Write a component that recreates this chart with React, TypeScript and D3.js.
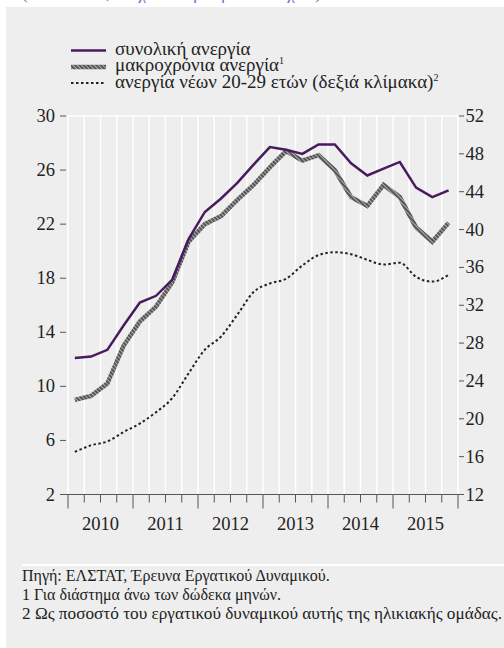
import React from "react";
import * as d3 from "d3";

const years = ["2010", "2011", "2012", "2013", "2014", "2015"];
const leftTicks = [2, 6, 10, 14, 18, 22, 26, 30];
const rightTicks = [12, 16, 20, 24, 28, 32, 36, 40, 44, 48, 52];

const totalUnemp = [12.1, 12.2, 12.7, 14.5, 16.2, 16.7, 17.9, 20.9, 22.9, 23.9, 25.05, 26.4,
  27.7, 27.5, 27.2, 27.9, 27.9, 26.5, 25.6, 26.1, 26.6, 24.7, 24.0, 24.5];
const longTerm = [9.0, 9.3, 10.2, 13.0, 14.8, 15.9, 17.7, 20.7, 22.0, 22.6, 23.8, 24.9,
  26.2, 27.4, 26.7, 27.1, 26.0, 24.0, 23.35, 24.9, 24.0, 21.75, 20.7, 22.1];
const youth = [16.5, 17.2, 17.6, 18.6, 19.5, 20.7, 22.2, 24.8, 27.3, 28.7, 31.0, 33.4,
  34.3, 34.8, 36.2, 37.3, 37.6, 37.4, 36.8, 36.3, 36.5, 35.0, 34.5, 35.2];

const legendItems = ["συνολική ανεργία", "μακροχρόνια ανεργία", "ανεργία νέων 20-29 ετών (δεξιά κλίμακα)"];
const legendSup = ["", "1", "2"];
const notes = [
  "Πηγή: ΕΛΣΤΑΤ, Έρευνα Εργατικού Δυναμικού.",
  "1 Για διάστημα άνω των δώδεκα μηνών.",
  "2 Ως ποσοστό του εργατικού δυναμικού αυτής της ηλικιακής ομάδας.",
];

const ts = { fontFamily: '"Liberation Serif", monospace' };

export default function App() {
  const left = 68, right = 458, top = 116, bottom = 494.5;
  const x = d3.scaleLinear().domain([0, 24]).range([left, right]);
  const yL = d3.scaleLinear().domain([2, 30]).range([bottom, top]);
  const yR = d3.scaleLinear().domain([12, 52]).range([bottom, top]);
  const px = (i: number) => x(i + 0.42);

  const lineL = d3.line<number>().x((_, i) => px(i)).y((d) => yL(d));
  const lineR = d3.line<number>().x((_, i) => px(i)).y((d) => yR(d)).curve(d3.curveMonotoneX);

  const tickColor = "#555";
  const textColor = "#222";

  return (
    <svg width={504} height={648} style={{ position: "absolute", left: 0, top: 0 }}>
      <defs>
        <pattern id="hatch" patternUnits="userSpaceOnUse" width="3" height="3" patternTransform="rotate(-45)">
          <rect width="3" height="3" fill="#b0b0b0" />
          <rect width="2" height="3" fill="#555555" />
        </pattern>
      </defs>
      <rect x={0} y={0} width={504} height={648} fill="#fff" />
      <text x={22} y={-1} fontSize={17} fill="#7a62c4" style={ts}>(ποσοστά %, εποχικά διορθωμένα στοιχεία)</text>
      <rect x={6} y={7} width={498} height={641} fill="#eeeeee" />

      {/* gridlines */}
      <line x1={left} x2={right} y1={top} y2={top} stroke="#fff" strokeWidth={1.5} />
      {d3.range(25).map((i) => (
        <line key={"g" + i} x1={x(i)} x2={x(i)} y1={top} y2={bottom} stroke="#fff" strokeWidth={1.5} />
      ))}

      {/* x axis */}
      <line x1={60} x2={464} y1={bottom} y2={bottom} stroke={tickColor} strokeWidth={1} />
      {d3.range(25).map((i) => (
        <line key={"xt" + i} x1={x(i)} x2={x(i)} y1={bottom} y2={bottom + (i % 4 === 0 ? 14 : 8)} stroke={tickColor} strokeWidth={1} />
      ))}
      {years.map((yr, k) => (
        <text key={yr} x={x(k * 4 + 2)} y={530} fontSize={18.5} textAnchor="middle" fill={textColor} style={ts}>{yr}</text>
      ))}

      {/* left axis */}
      {leftTicks.map((t) => (
        <g key={"l" + t}>
          <line x1={60} x2={66} y1={yL(t)} y2={yL(t)} stroke={tickColor} />
          <text x={55} y={yL(t) + 6} fontSize={18.5} textAnchor="end" fill={textColor} style={ts}>{t}</text>
        </g>
      ))}
      {/* right axis */}
      {rightTicks.map((t) => (
        <g key={"r" + t}>
          <line x1={459} x2={464} y1={yR(t)} y2={yR(t)} stroke={tickColor} />
          <text x={465.5} y={yR(t) + 6} fontSize={18.5} textAnchor="start" fill={textColor} style={ts}>{t}</text>
        </g>
      ))}

      {/* series */}
      <path d={lineR(youth) || ""} fill="none" stroke="#222" strokeWidth={2} strokeDasharray="2.5,2.5" />
      <path d={lineL(longTerm) || ""} fill="none" stroke="url(#hatch)" strokeWidth={4.5} />
      <path d={lineL(totalUnemp) || ""} fill="none" stroke="#4a1a5e" strokeWidth={2.5} />

      {/* legend */}
      <line x1={71} x2={106} y1={50.5} y2={50.5} stroke="#4a1a5e" strokeWidth={2.5} />
      <line x1={71} x2={106} y1={67} y2={67} stroke="url(#hatch)" strokeWidth={4.5} />
      <line x1={71} x2={106} y1={83} y2={83} stroke="#222" strokeWidth={2.2} strokeDasharray="2.5,2.5" />
      {legendItems.map((s, k) => (
        <text key={s} x={115} y={55 + k * 16.3} fontSize={19} fill={textColor} style={ts}>
          {s}
          {legendSup[k] && <tspan fontSize={10} dy={-7}>{legendSup[k]}</tspan>}
        </text>
      ))}

      {/* separator */}
      <line x1={22} x2={504} y1={565} y2={565} stroke="#fff" strokeWidth={2} />

      {/* notes */}
      <text x={22} y={581} fontSize={16} fill={textColor} style={ts}>{notes[0]}</text>
      <text x={22} y={600} fontSize={16} fill={textColor} style={ts}>{notes[1]}</text>
      <text x={22} y={619} fontSize={16.5} fill={textColor} style={ts} textLength={480} lengthAdjust="spacingAndGlyphs">{notes[2]}</text>
    </svg>
  );
}
